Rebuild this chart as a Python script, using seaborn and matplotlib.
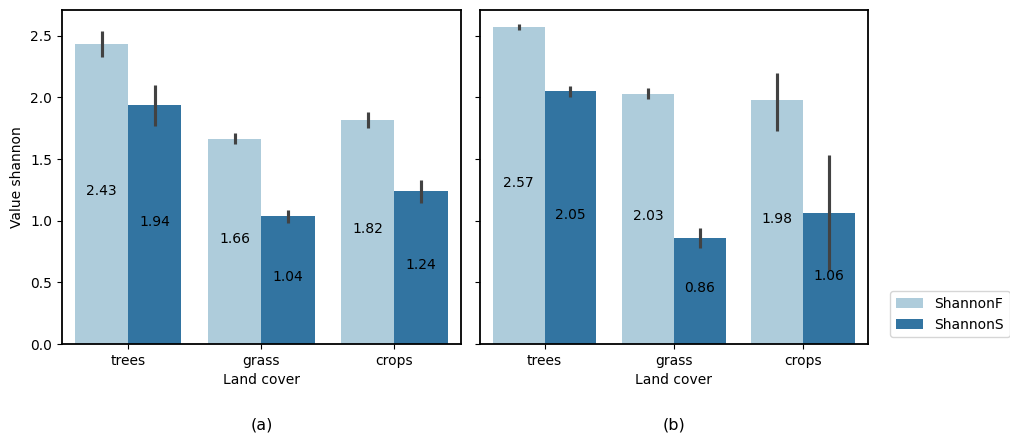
import numpy as np
import pandas as pd
import matplotlib
matplotlib.use("Agg")
import matplotlib.pyplot as plt
import seaborn as sns

# ---- data ----
land_cover = ["trees", "grass", "crops"]
series = ["ShannonF", "ShannonS"]

a_shannonF = [2.43, 1.66, 1.82]
a_shannonS = [1.94, 1.04, 1.24]
b_shannonF = [2.57, 2.03, 1.98]
b_shannonS = [2.05, 0.86, 1.06]

# confidence intervals (low, high)
a_F_lo = [2.33, 1.62, 1.75]
a_F_hi = [2.54, 1.71, 1.88]
a_S_lo = [1.77, 0.98, 1.14]
a_S_hi = [2.10, 1.09, 1.33]
b_F_lo = [2.55, 1.99, 1.73]
b_F_hi = [2.60, 2.08, 2.20]
b_S_lo = [2.00, 0.78, 0.60]
b_S_hi = [2.09, 0.94, 1.53]

panel_titles = ["(a)", "(b)"]


def make_df(f_vals, s_vals):
    rows = []
    for name, vals in zip(series, [f_vals, s_vals]):
        for lc, v in zip(land_cover, vals):
            rows.append({"Land cover": lc, "Index": name, "Value shannon": v})
    return pd.DataFrame(rows)


df_a = make_df(a_shannonF, a_shannonS)
df_b = make_df(b_shannonF, b_shannonS)

fig = plt.figure(figsize=(10.1, 4.38), dpi=100)
ax1 = fig.add_axes([0.0611, 0.2146, 0.3953, 0.7626])
ax2 = fig.add_axes([0.4752, 0.2146, 0.3839, 0.7626], sharey=ax1)

panels = [
    (ax1, df_a, [(a_F_lo, a_F_hi), (a_S_lo, a_S_hi)]),
    (ax2, df_b, [(b_F_lo, b_F_hi), (b_S_lo, b_S_hi)]),
]

for ax, df, cis in panels:
    sns.barplot(data=df, x="Land cover", y="Value shannon", hue="Index",
                hue_order=series, order=land_cover, palette="Paired",
                errorbar=None, ax=ax)
    for cont, (lo, hi) in zip(ax.containers, cis):
        xs = [p.get_x() + p.get_width() / 2 for p in cont.patches]
        ax.vlines(xs, lo, hi, color=".26", linewidth=2.25, zorder=3)
        ax.bar_label(cont, fmt="%.2f", label_type="center", fontsize=10,
                     padding=2)
    for sp in ax.spines.values():
        sp.set_linewidth(1.3)
    ax.set_xlabel("Land cover")
    ax.set_xlim(-0.5, len(land_cover) - 0.5)

ax1.set_ylim(0, 2.71)
ax1.set_ylabel("Value shannon")
ax2.set_ylabel("")
plt.setp(ax2.get_yticklabels(), visible=False)

ax1.get_legend().remove()
sns.move_legend(ax2, "lower left", bbox_to_anchor=(1.04, 0.0), title=None,
                frameon=True, fontsize=10)

for ax, t in zip([ax1, ax2], panel_titles):
    pos = ax.get_position()
    fig.text((pos.x0 + pos.x1) / 2, 0.03, t, ha="center", va="center",
             fontsize=11.5)

fig.savefig("out.png", dpi=100)
